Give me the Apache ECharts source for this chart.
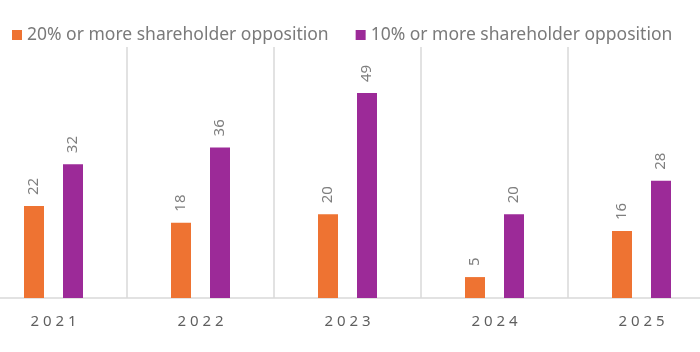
<!DOCTYPE html>
<html>
<head>
    <meta charset="utf-8">
    <title>Shareholder opposition</title>
    <style>
        html, body { margin: 0; padding: 0; background: #fff; overflow: hidden; }
        /* plot runs past both edges of the window, as in the cropped original */
        #chart { width: 735px; height: 352px; margin-left: -20px; }
    </style>
</head>
<body>
    <div id="chart"></div>
    <script src="https://cdn.jsdelivr.net/npm/echarts@6/dist/echarts.min.js"></script>
    <script>
        var years = ['2021', '2022', '2023', '2024', '2025'];
        var seriesNames = ['20% or more shareholder opposition', '10% or more shareholder opposition'];
        var over20 = [22, 18, 20, 5, 16];
        var over10 = [32, 36, 49, 20, 28];
        var colors = ['#EE7332', '#9C2A98'];

        var chart = echarts.init(document.getElementById('chart'));

        var labelStyle = {
            show: true,
            position: 'top',
            rotate: 90,
            align: 'left',
            verticalAlign: 'middle',
            distance: 11,
            color: '#7f7f7f',
            fontSize: 15,
            fontFamily: 'Noto Sans'
        };

        chart.setOption({
            animation: false,
            color: colors,
            legend: {
                left: 27,
                top: 21,
                itemWidth: 10,
                itemHeight: 10,
                itemGap: 27,
                icon: 'rect',
                textStyle: { color: '#7a7a7a', fontSize: 17.5, fontFamily: 'Noto Sans' },
                data: seriesNames
            },
            grid: { left: 0, right: 0, top: 47, bottom: 54 },
            xAxis: {
                type: 'category',
                data: years,
                axisLine: { lineStyle: { color: '#d9d9d9', width: 1.5 } },
                axisTick: { show: false },
                splitLine: { show: true, lineStyle: { color: '#d9d9d9', width: 1.5 } },
                axisLabel: {
                    color: '#5f5f5f',
                    fontSize: 15,
                    fontFamily: 'Noto Sans',
                    margin: 16,
                    formatter: function (v) { return v.split('').join(' '); }
                }
            },
            yAxis: {
                type: 'value',
                min: 0,
                max: 60,
                show: false,
                splitLine: { show: false }
            },
            series: [
                { name: seriesNames[0], type: 'bar', data: over20, barWidth: 20, barGap: '95%', label: labelStyle },
                { name: seriesNames[1], type: 'bar', data: over10, barWidth: 20, barGap: '95%', label: labelStyle }
            ]
        });
    </script>
</body>
</html>
